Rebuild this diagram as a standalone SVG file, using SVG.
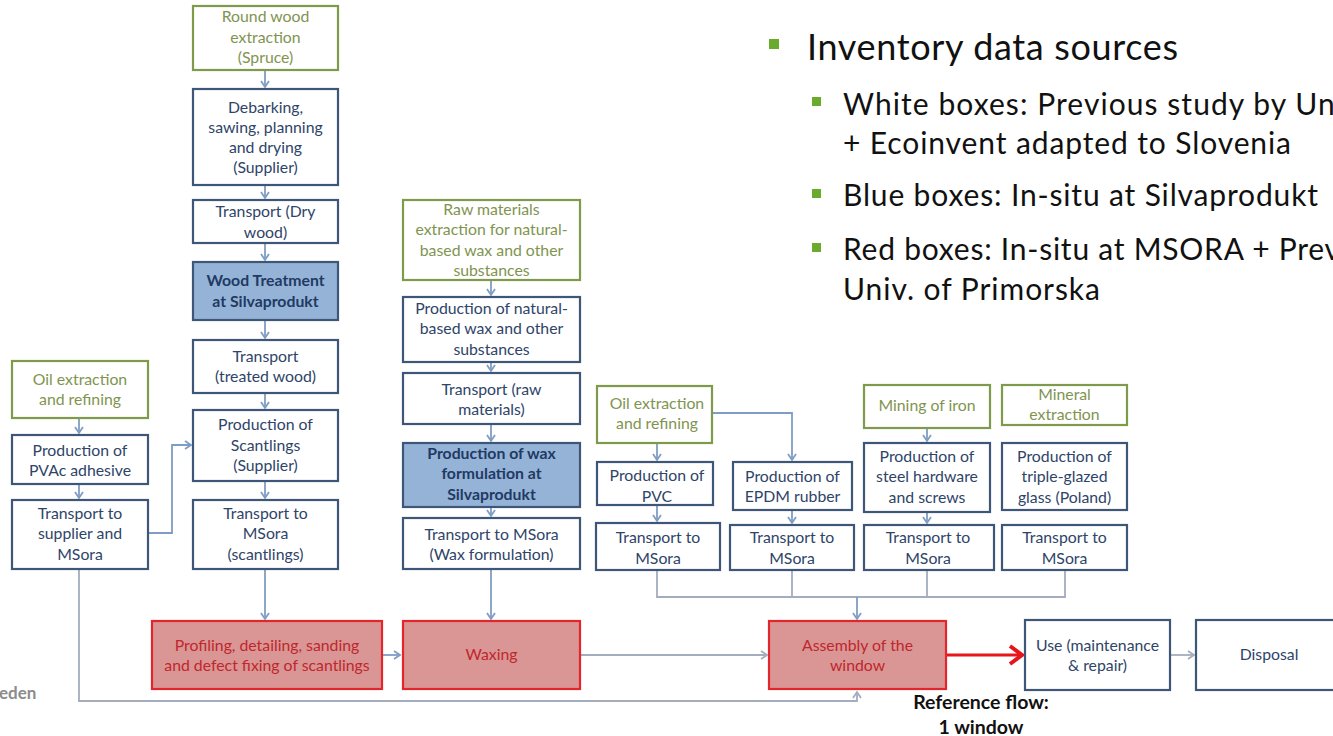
<svg xmlns="http://www.w3.org/2000/svg" width="1333" height="736" viewBox="0 0 1333 736">
<style>
text{font-family:Lato,"Open Sans","Liberation Sans",sans-serif;}
.bx{fill:#fff;stroke:#3e5778;stroke-width:2.2;}
.gb{fill:#fff;stroke:#7f9a4a;stroke-width:2.2;}
.bl{fill:#95b3d7;stroke:#3e5778;stroke-width:2.2;}
.rd{fill:#d99694;stroke:#e3262b;stroke-width:2.2;}
.t{font-size:15.8px;fill:#2e4468;text-anchor:middle;}
.tg{font-size:15.8px;fill:#7f9450;text-anchor:middle;}
.tb{font-size:15.8px;fill:#213a63;text-anchor:middle;font-weight:bold;}
.tr{font-size:15.8px;fill:#c0262d;text-anchor:middle;}
.c{fill:none;stroke:#7f9dc4;stroke-width:1.8;}
.cg{fill:none;stroke:#a3adbd;stroke-width:1.8;}
.bul{font-size:36px;fill:#111;}
.sub{font-size:30px;fill:#111;}
</style>
<defs>
<marker id="a" markerUnits="userSpaceOnUse" markerWidth="12" markerHeight="12" refX="7" refY="5" orient="auto">
<path d="M1,1 L7,5 L1,9" fill="none" stroke="#7f9dc4" stroke-width="1.8"/>
</marker>
<marker id="ag" markerUnits="userSpaceOnUse" markerWidth="12" markerHeight="12" refX="7" refY="5" orient="auto">
<path d="M1,1 L7,5 L1,9" fill="none" stroke="#a3adbd" stroke-width="1.8"/>
</marker>
<marker id="ar" markerUnits="userSpaceOnUse" markerWidth="20" markerHeight="24" refX="15" refY="12" orient="auto">
<path d="M3,3 L15,12 L3,21" fill="none" stroke="#e8141c" stroke-width="4"/>
</marker>
</defs>

<g id="connectors">
<path class="c" d="M265,70 V87" marker-end="url(#a)"/>
<path class="c" d="M265,185 V198" marker-end="url(#a)"/>
<path class="c" d="M265,243 V260" marker-end="url(#a)"/>
<path class="c" d="M265,320 V338" marker-end="url(#a)"/>
<path class="c" d="M265,393 V408" marker-end="url(#a)"/>
<path class="c" d="M265,481 V498" marker-end="url(#a)"/>
<path class="c" d="M265,569 V619" marker-end="url(#a)"/>
<path class="c" d="M79,418 V433" marker-end="url(#a)"/>
<path class="c" d="M79,484 V498" marker-end="url(#a)"/>
<path class="c" d="M148,533 H172 V445 H191" marker-end="url(#a)"/>
<path class="cg" d="M79,569 V701 H857 V692" marker-end="url(#ag)"/>
<path class="c" d="M491,280 V295" marker-end="url(#a)"/>
<path class="c" d="M491,362 V371" marker-end="url(#a)"/>
<path class="c" d="M491,424 V441" marker-end="url(#a)"/>
<path class="c" d="M491,507 V516" marker-end="url(#a)"/>
<path class="c" d="M491,569 V619" marker-end="url(#a)"/>
<path class="c" d="M657,443 V460" marker-end="url(#a)"/>
<path class="c" d="M657,505 V521" marker-end="url(#a)"/>
<path class="c" d="M712,413 H792 V460" marker-end="url(#a)"/>
<path class="c" d="M792,510 V523" marker-end="url(#a)"/>
<path class="c" d="M927,428 V441" marker-end="url(#a)"/>
<path class="c" d="M927,512 V523" marker-end="url(#a)"/>
<path class="cg" d="M657,570 V597 H1065 V570 M792,570 V597 M927,570 V597"/>
<path class="c" d="M857,597 V619" marker-end="url(#a)"/>
<path class="c" d="M382,655 H400" marker-end="url(#a)"/>
<path class="cg" d="M580,655 H767" marker-end="url(#ag)"/>
<path fill="none" stroke="#e8141c" stroke-width="3" d="M946,655 H1022" marker-end="url(#ar)"/>
<path class="cg" d="M1170,655 H1194" marker-end="url(#ag)"/>
</g>

<g id="n-roundwood"><rect class="gb" x="193" y="6" width="145" height="64"/>
<text class="tg" x="265.5" y="22">Round wood</text><text class="tg" x="265.5" y="43">extraction</text><text class="tg" x="265.5" y="63">(Spruce)</text></g>
<g id="n-debarking"><rect class="bx" x="193" y="89" width="145" height="96"/>
<text class="t" x="265.5" y="113">Debarking,</text><text class="t" x="265.5" y="133">sawing, planning</text><text class="t" x="265.5" y="153">and drying</text><text class="t" x="265.5" y="173">(Supplier)</text></g>
<g id="n-transport-dry"><rect class="bx" x="193" y="200" width="145" height="43"/>
<text class="t" x="265.5" y="217">Transport (Dry</text><text class="t" x="265.5" y="238">wood)</text></g>
<g id="n-wood-treatment"><rect class="bl" x="193" y="262" width="145" height="58"/>
<text class="tb" x="265.5" y="286">Wood Treatment</text><text class="tb" x="265.5" y="307">at Silvaprodukt</text></g>
<g id="n-transport-treated"><rect class="bx" x="193" y="340" width="145" height="53"/>
<text class="t" x="265.5" y="362">Transport</text><text class="t" x="265.5" y="382">(treated wood)</text></g>
<g id="n-scantlings"><rect class="bx" x="193" y="410" width="145" height="71"/>
<text class="t" x="265.5" y="430">Production of</text><text class="t" x="265.5" y="451">Scantlings</text><text class="t" x="265.5" y="471">(Supplier)</text></g>
<g id="n-transport-scantlings"><rect class="bx" x="193" y="500" width="145" height="69"/>
<text class="t" x="265.5" y="519">Transport to</text><text class="t" x="265.5" y="539">MSora</text><text class="t" x="265.5" y="560">(scantlings)</text></g>

<g id="n-oil1"><rect class="gb" x="12" y="361" width="136" height="57"/>
<text class="tg" x="80" y="385">Oil extraction</text><text class="tg" x="80" y="405">and refining</text></g>
<g id="n-pvac"><rect class="bx" x="12" y="435" width="136" height="49"/>
<text class="t" x="80" y="456">Production of</text><text class="t" x="80" y="476">PVAc adhesive</text></g>
<g id="n-transport-supplier"><rect class="bx" x="12" y="500" width="136" height="69"/>
<text class="t" x="80" y="519">Transport to</text><text class="t" x="80" y="539">supplier and</text><text class="t" x="80" y="560">MSora</text></g>

<g id="n-rawmat"><rect class="gb" x="403" y="200" width="177" height="80"/>
<text class="tg" x="491.5" y="215">Raw materials</text><text class="tg" x="491.5" y="235">extraction for natural-</text><text class="tg" x="491.5" y="256">based wax and other</text><text class="tg" x="491.5" y="276">substances</text></g>
<g id="n-natwax"><rect class="bx" x="403" y="297" width="177" height="65"/>
<text class="t" x="491.5" y="314">Production of natural-</text><text class="t" x="491.5" y="334">based wax and other</text><text class="t" x="491.5" y="355">substances</text></g>
<g id="n-transport-raw"><rect class="bx" x="403" y="373" width="177" height="51"/>
<text class="t" x="491.5" y="395">Transport (raw</text><text class="t" x="491.5" y="415">materials)</text></g>
<g id="n-waxform"><rect class="bl" x="403" y="443" width="177" height="64"/>
<text class="tb" x="491.5" y="459">Production of wax</text><text class="tb" x="491.5" y="479">formulation at</text><text class="tb" x="491.5" y="500">Silvaprodukt</text></g>
<g id="n-transport-wax"><rect class="bx" x="403" y="518" width="177" height="51"/>
<text class="t" x="491.5" y="540">Transport to MSora</text><text class="t" x="491.5" y="560">(Wax formulation)</text></g>

<g id="n-oil2"><rect class="gb" x="597" y="386" width="115" height="57"/>
<text class="tg" x="657" y="409">Oil extraction</text><text class="tg" x="657" y="429">and refining</text></g>
<g id="n-pvc"><rect class="bx" x="597" y="462" width="116" height="43"/>
<text class="t" x="657" y="481">Production of</text><text class="t" x="657" y="502">PVC</text></g>
<g id="n-transport-pvc"><rect class="bx" x="596" y="523" width="124" height="47"/>
<text class="t" x="658" y="543">Transport to</text><text class="t" x="658" y="564">MSora</text></g>
<g id="n-epdm"><rect class="bx" x="733" y="462" width="119" height="48"/>
<text class="t" x="792.5" y="482">Production of</text><text class="t" x="792.5" y="502">EPDM rubber</text></g>
<g id="n-transport-epdm"><rect class="bx" x="730" y="525" width="124" height="45"/>
<text class="t" x="792" y="543">Transport to</text><text class="t" x="792" y="564">MSora</text></g>
<g id="n-iron"><rect class="gb" x="864" y="385" width="126" height="43"/>
<text class="tg" x="927" y="411">Mining of iron</text></g>
<g id="n-steel"><rect class="bx" x="864" y="443" width="126" height="69"/>
<text class="t" x="927" y="462">Production of</text><text class="t" x="927" y="482">steel hardware</text><text class="t" x="927" y="503">and screws</text></g>
<g id="n-transport-steel"><rect class="bx" x="864" y="525" width="130" height="45"/>
<text class="t" x="928" y="543">Transport to</text><text class="t" x="928" y="564">MSora</text></g>
<g id="n-mineral"><rect class="gb" x="1002" y="385" width="125" height="40"/>
<text class="tg" x="1064.5" y="400">Mineral</text><text class="tg" x="1064.5" y="420">extraction</text></g>
<g id="n-glass"><rect class="bx" x="1002" y="443" width="125" height="67"/>
<text class="t" x="1064.5" y="462">Production of</text><text class="t" x="1064.5" y="482">triple-glazed</text><text class="t" x="1064.5" y="503">glass (Poland)</text></g>
<g id="n-transport-glass"><rect class="bx" x="1002" y="525" width="125" height="45"/>
<text class="t" x="1064.5" y="543">Transport to</text><text class="t" x="1064.5" y="564">MSora</text></g>

<g id="n-profiling"><rect class="rd" x="152" y="621" width="230" height="68"/>
<text class="tr" x="267" y="651">Profiling, detailing, sanding</text><text class="tr" x="267" y="671">and defect fixing of scantlings</text></g>
<g id="n-waxing"><rect class="rd" x="403" y="621" width="177" height="68"/>
<text class="tr" x="491.5" y="660">Waxing</text></g>
<g id="n-assembly"><rect class="rd" x="769" y="621" width="177" height="68"/>
<text class="tr" x="857.5" y="651">Assembly of the</text><text class="tr" x="857.5" y="671">window</text></g>
<g id="n-use"><rect class="bx" x="1025" y="620" width="145" height="70"/>
<text class="t" x="1097.5" y="651">Use (maintenance</text><text class="t" x="1097.5" y="671">&amp; repair)</text></g>
<g id="n-disposal"><rect class="bx" x="1196" y="620" width="150" height="70"/>
<text class="t" x="1269" y="660">Disposal</text></g>

<g id="labels">
<text x="981" y="709" style="font-size:19.5px;font-weight:bold;fill:#111;text-anchor:middle">Reference flow:</text>
<text x="981" y="734" style="font-size:19.5px;font-weight:bold;fill:#111;text-anchor:middle">1 window</text>
<text x="-1" y="699" style="font-size:17px;font-weight:bold;fill:#8c8c8c">eden</text>
</g>

<g id="legend">
<rect x="769" y="39" width="10" height="10" fill="#6aab2e"/>
<text class="bul" x="807" y="60" textLength="371" lengthAdjust="spacing">Inventory data sources</text>
<rect x="812" y="97" width="9" height="9" fill="#6aab2e"/>
<text class="sub" x="843" y="115" textLength="500" lengthAdjust="spacing">White boxes: Previous study by Uni</text>
<text class="sub" x="843" y="154" textLength="448" lengthAdjust="spacing">+ Ecoinvent adapted to Slovenia</text>
<rect x="812" y="189" width="9" height="9" fill="#6aab2e"/>
<text class="sub" x="843" y="206" textLength="475" lengthAdjust="spacing">Blue boxes: In-situ at Silvaprodukt</text>
<rect x="812" y="243" width="9" height="9" fill="#6aab2e"/>
<text class="sub" x="843" y="260" textLength="497" lengthAdjust="spacing">Red boxes: In-situ at MSORA + Prev</text>
<text class="sub" x="843" y="300" textLength="257" lengthAdjust="spacing">Univ. of Primorska</text>
</g>
</svg>
